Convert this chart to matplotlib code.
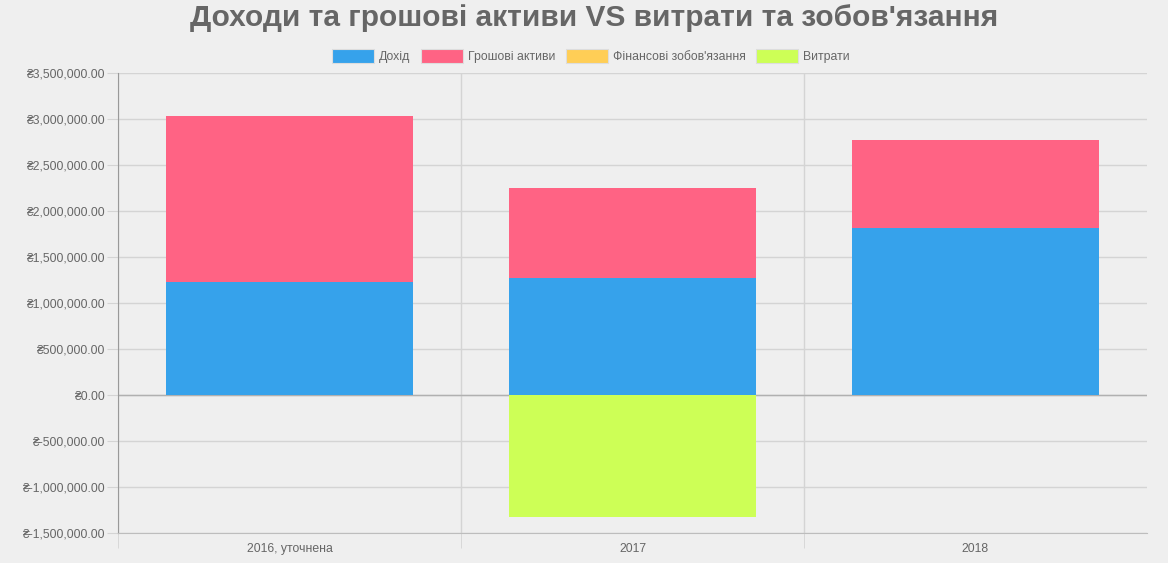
import matplotlib
matplotlib.use("Agg")
import matplotlib.pyplot as plt
import numpy as np
from matplotlib.patches import Patch
from matplotlib.ticker import FuncFormatter, FixedLocator

categories = ["2016, уточнена", "2017", "2018"]
income = [1235000, 1278000, 1811000]
cash_assets = [1800000, 975000, 964000]
liabilities = [0, 0, 0]
expenses = [0, -1320000, 0]

series_names = ["Дохід", "Грошові активи", "Фінансові зобов'язання", "Витрати"]
colors = ["#36a2eb", "#ff6384", "#ffce56", "#cdff56"]

yticks = [-1500000, -1000000, -500000, 0, 500000, 1000000, 1500000,
          2000000, 2500000, 3000000, 3500000]

plt.rcParams['font.family'] = ['Liberation Sans', 'DejaVu Sans']
TXT = "#666666"
BG = "#efefef"

fig = plt.figure(figsize=(11.68, 5.63), dpi=100, facecolor=BG)
ax = fig.add_axes([118/1168, 1-533.3/563, (1147-118)/1168, (533.3-73)/563])
ax.set_facecolor(BG)

x = np.arange(len(categories))
w = 0.72
ax.bar(x, income, w, color=colors[0], zorder=3)
ax.bar(x, cash_assets, w, bottom=income, color=colors[1], zorder=3)
ax.bar(x, liabilities, w, color=colors[2], zorder=3)
ax.bar(x, expenses, w, bottom=liabilities, color=colors[3], zorder=3)

ax.set_xlim(-0.5, len(categories) - 0.5)
ax.set_ylim(-1500000, 3500000)
ax.set_yticks(yticks)
ax.yaxis.set_major_formatter(FuncFormatter(lambda v, p: "₴" + format(v, ",.2f")))
ax.set_xticks(x)
ax.set_xticklabels(categories)
ax.xaxis.set_minor_locator(FixedLocator(np.arange(-0.5, len(categories) - 1, 1.0)))

ax.grid(axis='y', color="#d4d4d4", linewidth=1, zorder=0)
ax.grid(axis='x', which='minor', color="#d4d4d4", linewidth=1, zorder=0)
ax.axhline(0, color="#b0b0b0", linewidth=1, zorder=2)

for s in ['top', 'right']:
    ax.spines[s].set_visible(False)
ax.spines['left'].set_color("#999999")
ax.spines['bottom'].set_color("#bdbdbd")

ax.tick_params(axis='y', length=8, color="#d4d4d4", labelsize=8.8, labelcolor=TXT, pad=1)
ax.tick_params(axis='x', which='major', length=0, labelsize=8.8, labelcolor=TXT, pad=7)
ax.tick_params(axis='x', which='minor', length=11, color="#d4d4d4")

fig.text(594/1168, 1-18/563, "Доходи та грошові активи VS витрати та зобов'язання",
         ha='center', va='center', fontsize=21.5, fontweight='bold', color=TXT)

handles = [Patch(facecolor=c, edgecolor="#dddddd", linewidth=0.8) for c in colors]
leg = fig.legend(handles, series_names, loc='center', bbox_to_anchor=(591/1168, 1-56/563),
                 ncol=4, frameon=False, fontsize=8.8, handlelength=3.4, handleheight=1.35,
                 handletextpad=0.4, columnspacing=0.9, labelcolor=TXT)

fig.savefig("out.png", dpi=100, facecolor=BG)
